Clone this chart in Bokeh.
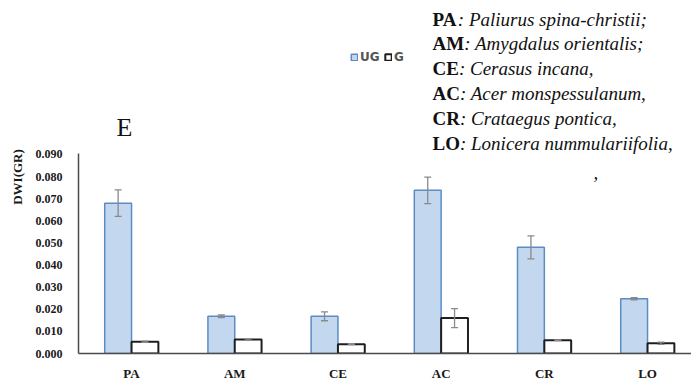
import numpy as np
from bokeh.plotting import figure
from bokeh.models import (ColumnDataSource, Whisker, TeeHead, Label, Legend, LegendItem,
                          FixedTicker, NumeralTickFormatter, Range1d)
from bokeh.embed import file_html
from bokeh.resources import INLINE

# ---------------- data ----------------
categories = ["PA", "AM", "CE", "AC", "CR", "LO"]
ug_values = [0.0680, 0.0168, 0.0168, 0.0738, 0.0480, 0.0248]
ug_errors = [0.0060, 0.0006, 0.0020, 0.0060, 0.0052, 0.0005]
g_values = [0.0053, 0.0063, 0.0042, 0.0160, 0.0060, 0.0046]
g_errors = [0.0003, 0.0003, 0.0002, 0.0043, 0.0002, 0.0005]
y_ticks = [0.000, 0.010, 0.020, 0.030, 0.040, 0.050, 0.060, 0.070, 0.080, 0.090]
species = ["Paliurus spina-christii;", "Amygdalus orientalis;", "Cerasus incana,",
           "Acer monspessulanum,", "Crataegus pontica,", "Lonicera nummulariifolia,"]

# ---------------- layout ----------------
W, H = 691, 383
L, R, B = 78, 691, 362          # frame left/right/bottom in pixels
AXIS_TOP_PX = 157               # where the value axis ends
X0, X1 = -0.514, 5.426
Y0, Y_AXIS_END = 0.0, 0.0904
Y1 = Y0 + (Y_AXIS_END - Y0) * B / (B - AXIS_TOP_PX)   # frame extends to top of canvas

SERIF = "Liberation Serif"


def px_x(px):
    return X0 + (px - L) / (R - L) * (X1 - X0)


def px_y(py):
    return Y0 + (B - py) / B * (Y1 - Y0)


x = np.arange(len(categories))
off = 0.13
bw = 0.26

p = figure(width=W, height=H, output_backend="svg", toolbar_location=None,
           x_range=Range1d(X0, X1), y_range=Range1d(Y0, Y1),
           min_border_left=L, min_border_right=0, min_border_top=0, min_border_bottom=H - B)
p.outline_line_color = None
p.xgrid.grid_line_color = None
p.ygrid.grid_line_color = None
p.background_fill_color = "white"
p.border_fill_color = "white"

src_ug = ColumnDataSource(dict(x=x - off, top=ug_values,
                               upper=np.array(ug_values) + np.array(ug_errors),
                               lower=np.array(ug_values) - np.array(ug_errors)))
src_g = ColumnDataSource(dict(x=x + off, top=g_values,
                              upper=np.array(g_values) + np.array(g_errors),
                              lower=np.array(g_values) - np.array(g_errors)))

r_ug = p.vbar(x="x", top="top", width=bw, bottom=0, source=src_ug,
              fill_color="#c3d8ef", line_color="#5d8bc4", line_width=1.5)
r_g = p.vbar(x="x", top="top", width=bw, bottom=0, source=src_g,
             fill_color="white", line_color="#1e1e1e", line_width=2)

for s in (src_ug, src_g):
    wk = Whisker(base="x", upper="upper", lower="lower", source=s,
                 line_color="#8a8a8a", line_width=1.3, level="overlay",
                 upper_head=TeeHead(size=7, line_color="#8a8a8a", line_width=1.3),
                 lower_head=TeeHead(size=7, line_color="#8a8a8a", line_width=1.3))
    p.add_layout(wk)

# axes
p.xaxis.ticker = FixedTicker(ticks=list(x))
p.xaxis.major_label_overrides = {int(i): c for i, c in zip(x, categories)}
p.xaxis.major_tick_line_color = None
p.xaxis.minor_tick_line_color = None
p.xaxis.axis_line_color = "#4a4a4a"
p.xaxis.axis_line_width = 1.5
p.xaxis.major_label_text_font = SERIF
p.xaxis.major_label_text_font_style = "bold"
p.xaxis.major_label_text_font_size = "13px"
p.xaxis.major_label_text_color = "#1a1a1a"
p.xaxis.major_label_standoff = 6

p.yaxis.ticker = FixedTicker(ticks=y_ticks)
p.yaxis.bounds = (Y0, Y_AXIS_END)
p.yaxis.formatter = NumeralTickFormatter(format="0.000")
p.yaxis.major_tick_line_color = None
p.yaxis.minor_tick_line_color = None
p.yaxis.axis_line_color = "#4a4a4a"
p.yaxis.axis_line_width = 1.5
p.yaxis.major_label_text_font = SERIF
p.yaxis.major_label_text_font_style = "bold"
p.yaxis.major_label_text_font_size = "12px"
p.yaxis.major_label_text_color = "#1a1a1a"
p.yaxis.major_label_standoff = 10
p.yaxis.axis_label = "DWI(GR)"
p.yaxis.axis_label_text_font = SERIF
p.yaxis.axis_label_text_font_style = "bold"
p.yaxis.axis_label_text_font_size = "13px"
p.yaxis.axis_label_text_color = "#1a1a1a"
p.yaxis.axis_label_standoff = 8

# legend
legend = Legend(items=[LegendItem(label="UG", renderers=[r_ug]),
                       LegendItem(label="G", renderers=[r_g])],
                location=(272, 289), orientation="horizontal",
                border_line_color=None, background_fill_alpha=0,
                padding=0, margin=0, spacing=4, glyph_width=8, glyph_height=8,
                label_standoff=2, label_text_font="DejaVu Sans",
                label_text_font_style="bold", label_text_font_size="12px",
                label_text_color="#555555", label_height=10)
p.add_layout(legend)

# panel letter
p.add_layout(Label(x=px_x(116), y=px_y(130), text="E", text_font=SERIF,
                   text_font_size="26px", text_baseline="middle", text_color="#111111"))

# species key
bold_w = {"P": 0.611, "A": 0.722, "M": 0.944, "C": 0.722, "E": 0.667,
          "R": 0.722, "L": 0.667, "O": 0.778}
fs = 19
x_text = 432
y_first = 19
dy = 25.6
for i, (abbr, sp) in enumerate(zip(categories, species)):
    yy = px_y(y_first + i * dy)
    p.add_layout(Label(x=px_x(x_text), y=yy, text=abbr, text_font=SERIF,
                       text_font_style="bold", text_font_size=f"{fs}px",
                       text_baseline="middle", text_color="#111111"))
    wb = sum(bold_w[c] for c in abbr) * fs
    p.add_layout(Label(x=px_x(x_text + wb), y=yy, text=": " + sp, text_font=SERIF,
                       text_font_style="italic", text_font_size=f"{fs}px",
                       text_baseline="middle", text_color="#111111"))

p.add_layout(Label(x=px_x(593), y=px_y(176), text=",", text_font=SERIF,
                   text_font_style="italic", text_font_size=f"{fs}px",
                   text_baseline="middle", text_color="#111111"))

open("out.html", "w").write(file_html(p, INLINE))
